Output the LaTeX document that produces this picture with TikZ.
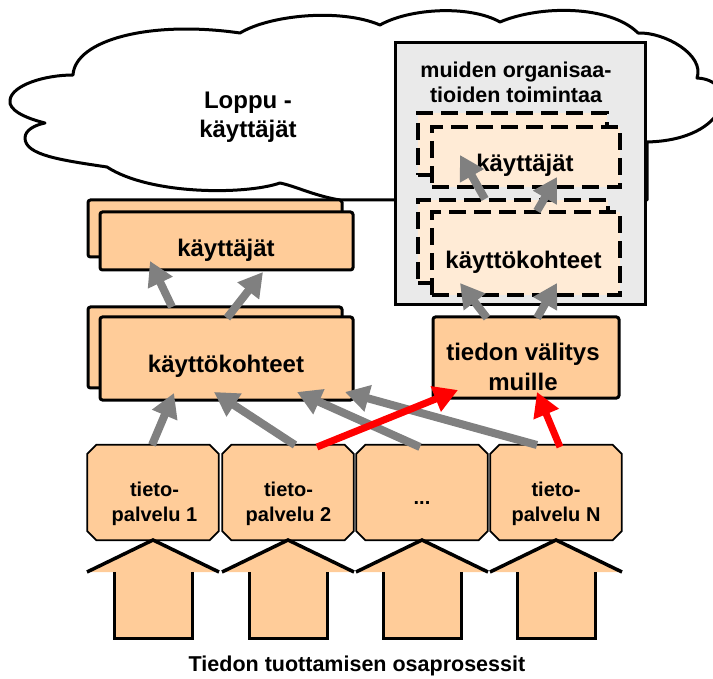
\documentclass[tikz,border=0pt]{standalone}
\usepackage{fontspec}
\setmainfont{Liberation Sans}
\usetikzlibrary{arrows.meta}

\definecolor{peach}{RGB}{255,204,153}
\definecolor{palepeach}{RGB}{255,235,214}
\definecolor{panelgray}{RGB}{234,234,234}
\definecolor{arrowgray}{RGB}{128,128,128}
\definecolor{flowred}{RGB}{255,0,0}

\tikzset{
  peachbox/.style={draw=black, line width=3pt, fill=peach, rounded corners=2.5pt, inner sep=0pt},
  dashbox/.style={draw=black, line width=4pt, dash pattern=on 17pt off 8pt, fill=palepeach, inner sep=0pt},
  svcbox/.style={rectangle, minimum width=131pt, minimum height=95pt, inner sep=0pt},
  svcline/.style={draw=black, line width=1.8pt, fill=peach, line join=miter},
  lbl/.style={font=\bfseries\fontsize{24}{30}\selectfont, align=center, inner sep=0pt},
  smalllbl/.style={font=\bfseries\fontsize{20}{25}\selectfont, align=center, inner sep=0pt},
  headlbl/.style={font=\bfseries\fontsize{21.5}{25}\selectfont, align=center, inner sep=0pt},
  garrow/.style={draw=arrowgray, line width=8pt, -{Triangle[length=24pt,width=26pt]}},
  rarrow/.style={draw=flowred, line width=7pt, -{Triangle[length=24pt,width=26pt]}},
}

% outline of a service box with cut corners
\newcommand\cutcornerbox[1]{%
  \path[svcline] ([xshift=9pt]#1.north west) -- ([xshift=-9pt]#1.north east)
    -- ([yshift=-9pt]#1.north east) -- ([yshift=9pt]#1.south east)
    -- ([xshift=-9pt]#1.south east) -- ([xshift=9pt]#1.south west)
    -- ([yshift=9pt]#1.south west) -- ([yshift=-9pt]#1.north west) -- cycle;}

\begin{document}
\begin{tikzpicture}[x=1pt,y=-1pt]
\useasboundingbox (0,0) rectangle (713,679);

% end users cloud
\draw[line width=3pt, fill=white, line join=round]
  (340,200) .. controls (315,196) and (295,186) .. (280,183)
  .. controls (245,195) and (150,195) .. (107,167)
  .. controls (60,160) and (25,155) .. (25,138)
  .. controls (25,130) and (35,125) .. (45,123)
  .. controls (25,118) and (8,110) .. (10,100)
  .. controls (12,85) and (45,75) .. (73,75)
  .. controls (75,40) and (150,20) .. (240,33)
  .. controls (270,15) and (340,8) .. (380,25)
  .. controls (410,8) and (470,5) .. (500,22)
  .. controls (540,5) and (610,5) .. (638,33)
  .. controls (665,32) and (705,55) .. (697,78)
  .. controls (740,80) and (730,140) .. (647,142)
  -- (647,200) -- cycle;
\node[lbl, font=\bfseries\fontsize{24}{29}\selectfont] (cloudtxt) at (248,117) {Loppu -\\käyttäjät};

% other organisations panel
\node[draw=black, line width=3pt, fill=panelgray, minimum width=250pt, minimum height=262pt, inner sep=0pt] (panel) at (520,174) {};
\node[headlbl] (paneltxt) at (516,82) {muiden organisaa-\\tioiden toimintaa};

\node[dashbox, minimum width=189pt, minimum height=62pt] (dktback) at (512.5,144) {};
\node[dashbox, minimum width=188pt, minimum height=60pt] (dkt) at (526,157) {};
\node[lbl] (dkttxt) at (525,165) {käyttäjät};

\node[dashbox, minimum width=190pt, minimum height=83pt] (dkkback) at (513,241.5) {};
\node[dashbox, minimum width=188pt, minimum height=83pt] (dkk) at (526,253.5) {};
\node[lbl] (dkktxt) at (523.5,262) {käyttökohteet};

% own users and applications
\node[peachbox, minimum width=254pt, minimum height=57pt] (ktback) at (215,228.5) {};
\node[peachbox, minimum width=253pt, minimum height=58pt] (kt) at (226.5,241) {};
\node[lbl] (kttxt) at (226,250.5) {käyttäjät};

\node[peachbox, minimum width=254pt, minimum height=81pt] (kkback) at (215,347.5) {};
\node[peachbox, minimum width=253pt, minimum height=83pt] (kk) at (226.5,358.5) {};
\node[lbl] (kktxt) at (226,366.5) {käyttökohteet};

\node[peachbox, minimum width=186pt, minimum height=81pt] (tv) at (526,357.5) {};
\node[lbl] (tvtxt) at (523,366.5) {tiedon välitys\\muille};

% information services
\node[svcbox] (s1) at (153,492.5) {};
\node[svcbox] (s2) at (288,492.5) {};
\node[svcbox] (s3) at (422,492.5) {};
\node[svcbox] (s4) at (556,492.5) {};
\cutcornerbox{s1}
\cutcornerbox{s2}
\cutcornerbox{s3}
\cutcornerbox{s4}
\node[smalllbl] (s1txt) at (154.5,504) {tieto-\\palvelu 1};
\node[smalllbl] (s2txt) at (288.5,504) {tieto-\\palvelu 2};
\node[smalllbl] (s3txt) at (422,503) {...};
\node[smalllbl] (s4txt) at (556,504) {tieto-\\palvelu N};

% production sub-processes
\foreach \cx in {153,288,422,556} {
  \fill[peach] (\cx-66,572) -- (\cx,540) -- (\cx+66,572) -- (\cx+39,572) -- (\cx+39,638)
    -- (\cx-39,638) -- (\cx-39,572) -- cycle;
  \draw[line width=3.5pt, line join=miter] (\cx-66,572) -- (\cx,540) -- (\cx+66,572);
  \draw[line width=3pt] (\cx-39,572) -- (\cx-39,638) -- (\cx+39,638) -- (\cx+39,572);
}
\node[headlbl] (caption) at (357,666) {Tiedon tuottamisen osaprosessit};

% arrow end points
\coordinate (u1s) at (172,307);  \coordinate (u1e) at (150,261);
\coordinate (u2s) at (227,318);  \coordinate (u2e) at (263,272);
\coordinate (p1s) at (485,199);  \coordinate (p1e) at (460,155);
\coordinate (p2s) at (537,211);  \coordinate (p2e) at (557,177);
\coordinate (p3s) at (487,318);  \coordinate (p3e) at (460,283);
\coordinate (p4s) at (537,318);  \coordinate (p4e) at (557,283);
\coordinate (a1s) at (152,445);  \coordinate (a1e) at (174,393);
\coordinate (a2s) at (295,445);  \coordinate (a2e) at (214,392);
\coordinate (a3s) at (420,447);  \coordinate (a3e) at (297,392);
\coordinate (a4s) at (537,445);  \coordinate (a4e) at (345,392);
\coordinate (r1s) at (317,447);  \coordinate (r1e) at (458,390);
\coordinate (r2s) at (560,447);  \coordinate (r2e) at (537,392);

\draw[garrow] (u1s) -- (u1e);
\draw[garrow] (u2s) -- (u2e);
\draw[garrow] (p1s) -- (p1e);
\draw[garrow] (p2s) -- (p2e);
\draw[garrow] (p3s) -- (p3e);
\draw[garrow] (p4s) -- (p4e);
\draw[garrow] (a1s) -- (a1e);
\draw[garrow] (a2s) -- (a2e);
\draw[garrow] (a3s) -- (a3e);
\draw[garrow] (a4s) -- (a4e);
\draw[rarrow] (r1s) -- (r1e);
\draw[rarrow] (r2s) -- (r2e);
\end{tikzpicture}
\end{document}
